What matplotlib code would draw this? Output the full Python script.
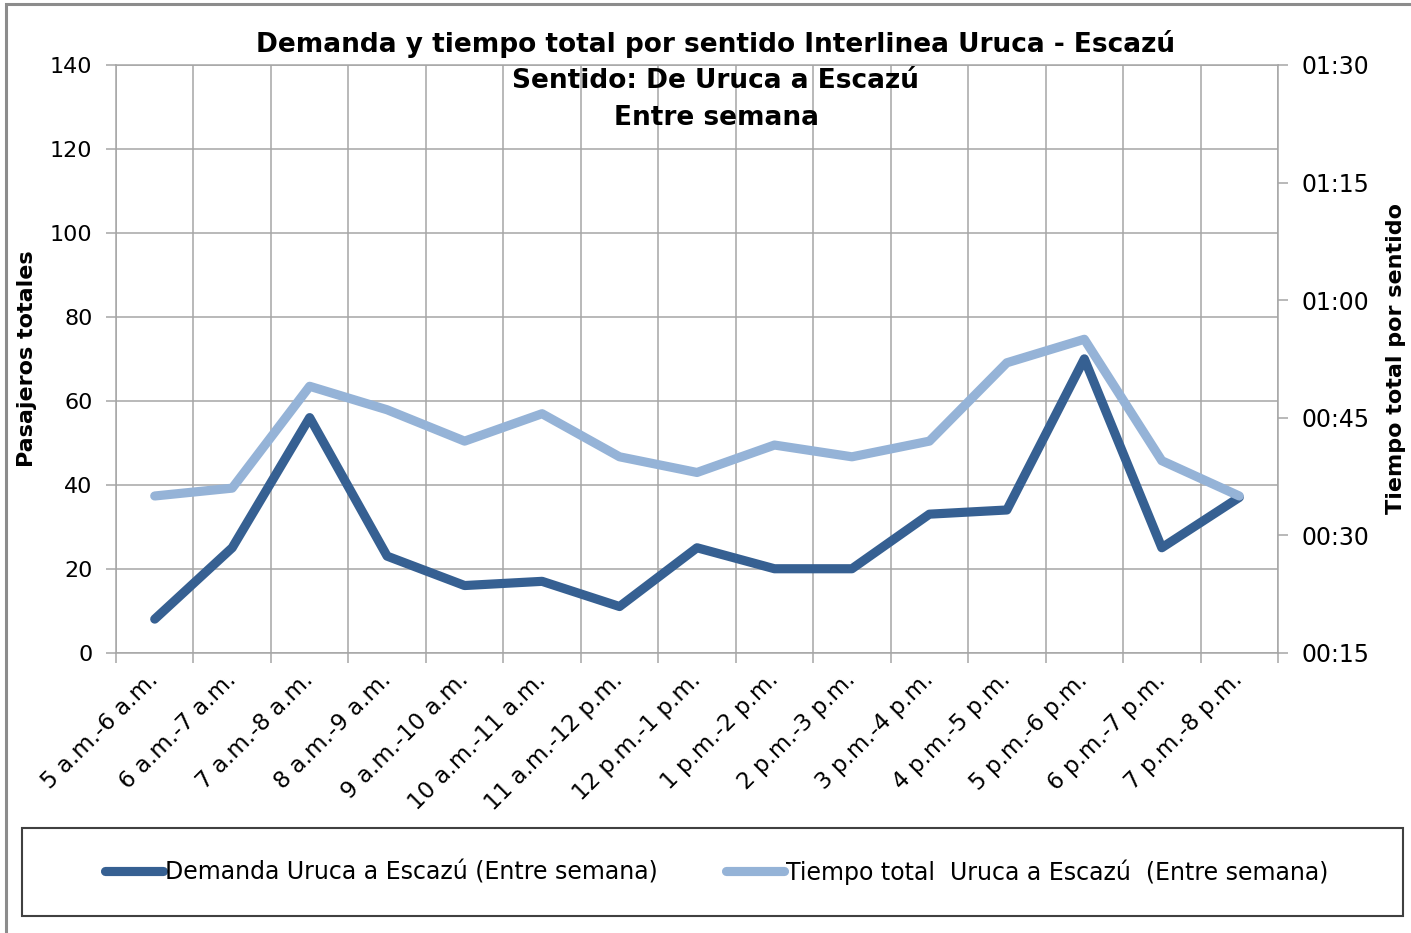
import numpy as np
import matplotlib
matplotlib.use("Agg")
import matplotlib.pyplot as plt
from matplotlib.patches import Rectangle
from matplotlib.ticker import FuncFormatter

plt.rcParams['font.family'] = ['DejaVu Sans']

# Hourly intervals (weekday service)
franjas = [
    "5 a.m.-6 a.m.", "6 a.m.-7 a.m.", "7 a.m.-8 a.m.", "8 a.m.-9 a.m.",
    "9 a.m.-10 a.m.", "10 a.m.-11 a.m.", "11 a.m.-12 p.m.", "12 p.m.-1 p.m.",
    "1 p.m.-2 p.m.", "2 p.m.-3 p.m.", "3 p.m.-4 p.m.", "4 p.m.-5 p.m.",
    "5 p.m.-6 p.m.", "6 p.m.-7 p.m.", "7 p.m.-8 p.m.",
]

# Total passengers per interval
demanda = [8, 25, 56, 23, 16, 17, 11, 25, 20, 20, 33, 34, 70, 25, 37]

# Total travel time per trip, in minutes
tiempo_min = [35, 36, 49, 46, 42, 45.5, 40, 38, 41.5, 40, 42, 52, 55, 39.5, 35]

titulo = [
    "Demanda y tiempo total por sentido Interlinea Uruca - Escazú",
    "Sentido: De Uruca a Escazú",
    "Entre semana",
]
etiqueta_demanda = "Demanda Uruca a Escazú (Entre semana)"
etiqueta_tiempo = "Tiempo total  Uruca a Escazú  (Entre semana)"

COLOR_DEMANDA = "#366092"
COLOR_TIEMPO = "#95b3d7"
GRID = "#a6a6a6"

W, H = 1411, 933
fig = plt.figure(figsize=(W / 100, H / 100), dpi=100)

# Outer chart frame
fig.patches.append(Rectangle((6 / W, -0.05), 1.2, 1 - 4 / H + 0.05,
                             transform=fig.transFigure, fill=False,
                             edgecolor="#8c8c8c", linewidth=2.2))

left, right, top, bottom = 116, 1278, 65, 652.7
ax = fig.add_axes([left / W, 1 - bottom / H, (right - left) / W, (bottom - top) / H])
ax2 = ax.twinx()

n = len(franjas)
x = np.arange(n) + 0.5

ax.set_xlim(0, n)
ax.set_ylim(0, 140)
ax.set_yticks(np.arange(0, 141, 20))

# Category boundaries carry the grid and tick marks; labels sit at centers
ax.set_xticks(np.arange(n + 1))
ax.set_xticklabels([])
ax.set_xticks(x, minor=True)
ax.set_xticklabels(franjas, minor=True, rotation=45, ha="right",
                   va="center", rotation_mode="anchor", fontsize=16.5)
ax.tick_params(axis="x", which="major", length=7, color=GRID, width=1.1)
ax.tick_params(axis="x", which="minor", length=0, pad=17)
ax.tick_params(axis="y", length=7, color=GRID, width=1.1, pad=10, labelsize=16)
ax.grid(True, which="major", color=GRID, linewidth=1.1)
ax.set_axisbelow(True)
for sp in ax.spines.values():
    sp.set_color(GRID)
    sp.set_linewidth(1.1)
for sp in ax2.spines.values():
    sp.set_visible(False)

ax.set_ylabel("Pasajeros totales", fontsize=16, fontweight="bold", labelpad=9)

ax2.set_ylim(15, 90)
ax2.set_yticks(np.arange(15, 91, 15))
ax2.yaxis.set_major_formatter(FuncFormatter(lambda v, _: f"{int(v)//60:02d}:{int(v)%60:02d}"))
ax2.tick_params(axis="y", length=7, color=GRID, width=1.1, pad=10, labelsize=17)
ax2.set_ylabel("Tiempo total por sentido", fontsize=16, fontweight="bold", labelpad=12)

l1, = ax.plot(x, demanda, color=COLOR_DEMANDA, linewidth=6.6,
              solid_capstyle="round", solid_joinstyle="round",
              label=etiqueta_demanda)
l2, = ax2.plot(x, tiempo_min, color=COLOR_TIEMPO, linewidth=6.6,
               solid_capstyle="round", solid_joinstyle="round",
               label=etiqueta_tiempo)

# Title lines
for texto, yc in zip(titulo, [44, 81, 118]):
    fig.text(716 / W, 1 - yc / H, texto, ha="center", va="center",
             fontsize=19, fontweight="bold")

# Legend box
lx0, ly0, lx1, ly1 = 22, 828, 1403, 916
fig.patches.append(Rectangle((lx0 / W, 1 - ly1 / H), (lx1 - lx0) / W, (ly1 - ly0) / H,
                             transform=fig.transFigure, fill=False,
                             edgecolor="#404040", linewidth=1.5))
fig.legend(handles=[l1, l2], loc="center", ncol=2, frameon=False,
           bbox_to_anchor=(717 / W, 1 - 872 / H), fontsize=17,
           handlelength=2.45, handletextpad=0.08, columnspacing=2.9)

fig.savefig("out.png", dpi=100, facecolor="white")
